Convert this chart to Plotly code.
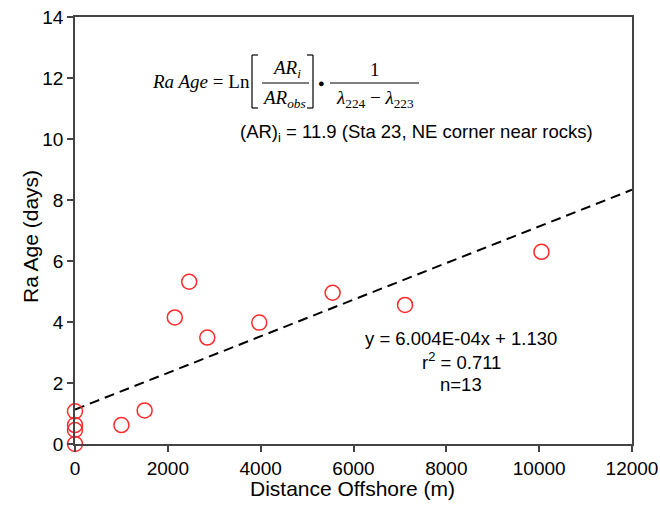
import plotly.graph_objects as go

# ---- data ----
distance_m = [0, 0, 0, 0, 1000, 1500, 2150, 2460, 2850, 3970, 5550, 7110, 10050]
ra_age_days = [0.0, 0.46, 0.62, 1.07, 0.62, 1.10, 4.15, 5.32, 3.49, 3.98, 4.96, 4.56, 6.30]
fit_slope = 6.004e-4
fit_intercept = 1.130
fit_x = [0, 12000]
fit_y = [fit_intercept + fit_slope * v for v in fit_x]
x_ticks = [0, 2000, 4000, 6000, 8000, 10000, 12000]
y_ticks = [0, 2, 4, 6, 8, 10, 12, 14]
x_title = "Distance Offshore (m)"
y_title = "Ra Age (days)"

# plot area on screen spans x 75..632, y 17..444 (body margin removed below)
W, H = 660, 511
SX0, SX1, SY0, SY1 = 75, 632, 17, 444
L, T = SX0, SY0
R, B = W - SX1, H - SY1
PW, PH = SX1 - SX0, SY1 - SY0


def px(x):
    return (x - SX0) / PW


def py(y):
    return (SY1 - y) / PH


fig = go.Figure()
fig.add_trace(go.Scatter(
    x=fit_x, y=fit_y, mode="lines",
    line=dict(color="black", width=2, dash="10px,6px"),
    showlegend=False, hoverinfo="skip"))
fig.add_trace(go.Scatter(
    x=distance_m, y=ra_age_days, mode="markers",
    marker=dict(symbol="circle-open", size=15, color="#ff2a2a", line=dict(width=1.5)),
    cliponaxis=False, showlegend=False))

axis_common = dict(
    showgrid=False, zeroline=False, showline=True, linecolor="#444", linewidth=1.5,
    mirror=True, ticks="outside", ticklen=6, tickwidth=1.5, tickcolor="#444",
    tickfont=dict(family="Liberation Sans, Arial", size=19, color="black"),
    automargin=False, ticklabeloverflow="allow",
)
fig.update_xaxes(range=[0, 12000], tickvals=x_ticks, ticktext=[str(v) for v in x_ticks],
                 **axis_common)
fig.update_yaxes(range=[0, 14], tickvals=y_ticks, ticktext=[str(v) for v in y_ticks],
                 **axis_common)

sans = dict(family="Liberation Sans, Arial", size=18.5, color="black")
serif = dict(family="Liberation Serif, Times New Roman", size=19, color="black")
title_font = dict(family="Liberation Sans, Arial", size=21, color="black")

ann = []


def add(text, x, y, font, xanchor="center", angle=0):
    ann.append(dict(text=text, x=px(x), y=py(y), xref="paper", yref="paper",
                    showarrow=False, font=font, xanchor=xanchor, yanchor="middle",
                    textangle=angle))


# axis titles
add(x_title, 352, 489, title_font)
add(y_title, 30, 237, title_font, angle=-90)

# equation
add("<i>Ra Age</i> = Ln", 150, 82, serif, "left")
add("<i>AR<sub>i</sub></i>", 286, 69, serif)
add("<i>AR<sub>obs</sub></i>", 284, 99, serif)
add("●", 321, 83, dict(family="Liberation Serif", size=11, color="black"))
add("1", 375, 69, serif)
add("<i>λ</i><sub>224</sub> − <i>λ</i><sub>223</sub>", 375, 99, serif)

# other texts
add("(AR)<sub>i</sub> = 11.9 (Sta 23, NE corner near rocks)", 238, 133, sans, "left")
add("y = 6.004E-04x + 1.130", 461, 338, sans)
add("r<sup>2</sup> = 0.711", 461, 361, sans)
add("n=13", 461, 384, sans)

shapes = []


def seg(x0, y0, x1, y1, w=1.2):
    shapes.append(dict(type="line", xref="paper", yref="paper",
                       x0=px(x0), y0=py(y0), x1=px(x1), y1=py(y1),
                       line=dict(color="black", width=w)))


# fraction bars
seg(262, 83, 309, 83)
seg(330, 83, 419, 83)
# left bracket
seg(252, 55, 252, 108)
seg(252, 55, 258, 55)
seg(252, 108, 258, 108)
# right bracket
seg(313, 55, 313, 108)
seg(307, 55, 313, 55)
seg(307, 108, 313, 108)

fig.update_layout(
    width=W, height=H,
    margin=dict(l=L, r=R, t=T, b=B, autoexpand=False),
    paper_bgcolor="white", plot_bgcolor="white",
    annotations=ann, shapes=shapes,
)

fig.write_html(
    "out.html",
    config={"displayModeBar": False},
    post_script="document.body.style.margin='0';document.body.style.overflow='hidden';",
)
